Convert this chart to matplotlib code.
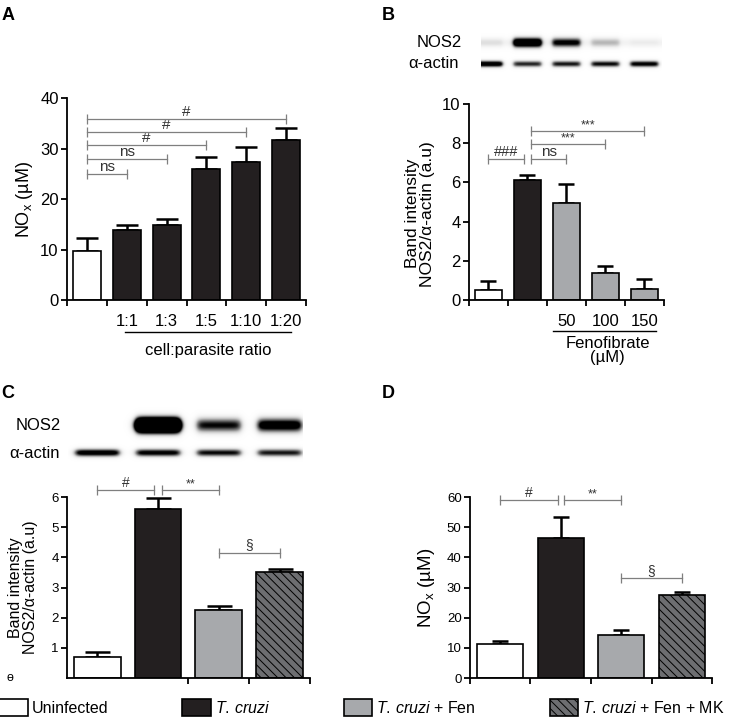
import numpy as np
import matplotlib.pyplot as plt
import matplotlib.transforms as mtransforms
from matplotlib.patches import Patch

plt.rcParams['font.family'] = ['Liberation Sans', 'DejaVu Sans']
plt.rcParams['mathtext.fontset'] = 'custom'
plt.rcParams['mathtext.rm'] = 'Liberation Sans'
plt.rcParams['mathtext.it'] = 'Liberation Sans:italic'
plt.rcParams['hatch.linewidth'] = 0.7

# ---- data ----
# panel A: NOx vs cell:parasite ratio
ratio_labels = ['', '1:1', '1:3', '1:5', '1:10', '1:20']
nox_A = [9.7, 13.8, 14.8, 26.0, 27.3, 31.8]
err_A = [2.5, 1.1, 1.2, 2.3, 3.0, 2.4]
sig_A = ['ns', 'ns', '#', '#', '#']
sig_A_y = [25.0, 28.0, 30.7, 33.4, 35.8]

# panel B: NOS2 band intensity vs fenofibrate dose
feno_labels = ['', '', '50', '100', '150']
band_B = [0.52, 6.1, 4.97, 1.37, 0.56]
err_B = [0.43, 0.26, 0.95, 0.39, 0.49]
nos2_B = [0.12, 1.6, 1.0, 0.3, 0.05]
actin_B = [1.3, 0.9, 0.95, 1.0, 1.1]

# panels C and D: four treatment groups
groups = ['Uninfected', 'T. cruzi', 'T. cruzi + Fen', 'T. cruzi + Fen + MK']
band_C = [0.71, 5.6, 2.25, 3.52]
err_C = [0.15, 0.37, 0.15, 0.09]
nos2_C = [0.0, 4.0, 1.0, 1.3]
actin_C = [1.2, 1.1, 1.0, 0.95]
nox_D = [11.2, 46.5, 14.1, 27.5]
err_D = [1.2, 6.9, 1.8, 1.1]

colors = ['white', '#231f20', '#a7a9ac', '#6d6e71']
hatches = ['', '', '', '\\\\\\\\']
gray = '#7f7f7f'


def setup(ax, n, ymax, yticks, fs, xticks):
    ax.set_xlim(-0.5, n - 0.5)
    ax.set_ylim(0, ymax)
    ax.set_yticks(yticks)
    ax.set_xticks(xticks)
    ax.set_xticklabels([])
    for s in ['top', 'right']:
        ax.spines[s].set_visible(False)
    for s in ['left', 'bottom']:
        ax.spines[s].set_linewidth(1.3)
    ax.tick_params(direction='out', length=4, width=1.3, labelsize=fs, pad=2)


def bars(ax, vals, errs, cols, hat, width, cap):
    x = np.arange(len(vals))
    ax.errorbar(x, vals, yerr=[np.zeros(len(vals)), errs], fmt='none', ecolor='black',
                elinewidth=1.8, capsize=cap, capthick=1.8, zorder=1)
    ax.bar(x, vals, width=width, color=cols, edgecolor='black', linewidth=1.2,
           hatch=hat, zorder=2)


def bracket(ax, x1, x2, y, label, fs):
    ax.plot([x1, x2], [y, y], color=gray, lw=0.9, marker='|', ms=7, mew=0.9,
            clip_on=False, zorder=3)
    ax.text((x1 + x2) / 2, y, label, ha='center', va='bottom', fontsize=fs,
            color='#333333', clip_on=False)


def blot(ax, n, x0, x1, rows):
    xs = np.linspace(x0, x1, 500)
    ys = np.linspace(0, 1, 150)
    X, Y = np.meshgrid(xs, ys)
    img = np.zeros_like(X)
    for amps, yc, th, bg in rows:
        img += bg * np.exp(-((Y - yc) / th) ** 2)
        for i, a in enumerate(amps):
            lane = 1 / (1 + np.exp((np.abs(X - i) - 0.36) / 0.03))
            img += a * lane * np.exp(-((Y - yc) / th) ** 2)
    ax.imshow(img, extent=(x0, x1, 0, 1), origin='lower', cmap='Greys', vmin=0,
              vmax=1.0, aspect='auto', interpolation='bilinear')
    ax.set_xlim(-0.5, n - 0.5)
    ax.set_ylim(0, 1)
    ax.axis('off')


fig = plt.figure(figsize=(7.29, 7.2), dpi=100)

# ---------------- A ----------------
axA = fig.add_axes([0.0919, 0.5833, 0.3279, 0.2802])
bars(axA, nox_A, err_A, [colors[0]] + [colors[1]] * 5, '', 0.7, 8)
setup(axA, 6, 40, [0, 10, 20, 30, 40], 12, np.arange(-0.5, 6))
axA.set_xticks(np.arange(6), minor=True)
axA.set_xticklabels(ratio_labels, minor=True)
axA.tick_params(axis='x', which='minor', length=0, labelsize=12, pad=10)
for i, (lab, yy) in enumerate(zip(sig_A, sig_A_y)):
    bracket(axA, 0, i + 1, yy, lab, 11)
axA.set_ylabel(r'NO$_\mathrm{x}$ (µM)', fontsize=13)
axA.yaxis.set_label_coords(-0.134, 0.5)
trA = mtransforms.blended_transform_factory(axA.transData, axA.transAxes)
axA.plot([0.95, 5.12], [-0.158, -0.158], color='black', lw=1.0, transform=trA, clip_on=False)
axA.text(3.04, -0.25, 'cell:parasite ratio', ha='center', va='center', fontsize=12,
         transform=trA)

# ---------------- B ----------------
axB = fig.add_axes([0.6433, 0.5833, 0.2675, 0.2722])
bars(axB, band_B, err_B, [colors[0], colors[1]] + [colors[2]] * 3, '', 0.7, 6)
setup(axB, 5, 10, [0, 2, 4, 6, 8, 10], 12, np.arange(-0.5, 5))
axB.set_xticks(np.arange(5), minor=True)
axB.set_xticklabels(feno_labels, minor=True)
axB.tick_params(axis='x', which='minor', length=0, labelsize=12, pad=10)
bracket(axB, 0, 0.91, 7.2, '###', 10.5)
bracket(axB, 1.09, 2, 7.2, 'ns', 11)
bracket(axB, 1.09, 3, 7.95, '***', 9)
bracket(axB, 1.09, 4, 8.6, '***', 9)
axB.set_ylabel('Band intensity\nNOS2/α-actin (a.u)', fontsize=12.5, linespacing=1.0)
axB.yaxis.set_label_coords(-0.172, 0.44)
trB = mtransforms.blended_transform_factory(axB.transData, axB.transAxes)
axB.plot([1.65, 4.3], [-0.158, -0.158], color='black', lw=1.0, transform=trB, clip_on=False)
axB.text(3.05, -0.22, 'Fenofibrate', ha='center', va='center', fontsize=12, transform=trB)
axB.text(3.05, -0.295, '(µM)', ha='center', va='center', fontsize=12, transform=trB)

blB = fig.add_axes([0.6433, 0.8917, 0.2675, 0.0694])
blot(blB, 5, -0.19, 4.45, [(nos2_B, 0.71, 0.09, 0.1), (actin_B, 0.28, 0.06, 0.0)])
blB.text(-0.036, 0.71, 'NOS2', transform=blB.transAxes, ha='right', va='center', fontsize=12)
blB.text(-0.05, 0.28, 'α-actin', transform=blB.transAxes, ha='right', va='center', fontsize=12)

# ---------------- C ----------------
axC = fig.add_axes([0.0919, 0.0583, 0.3333, 0.2514])
bars(axC, band_C, err_C, colors, hatches, 0.77, 9)
setup(axC, 4, 6, [1, 2, 3, 4, 5, 6], 9.5, [1.5, 2.5, 3.5])
bracket(axC, 0, 0.93, 6.22, '#', 10)
bracket(axC, 1.06, 2, 6.22, '**', 9)
bracket(axC, 2, 3, 4.16, '§', 10)
axC.set_ylabel('Band intensity\nNOS2/α-actin (a.u)', fontsize=11.5, linespacing=1.0)
axC.yaxis.set_label_coords(-0.12, 0.5)
fig.text(0.014, 0.058, 'ɵ', fontsize=9, ha='center', va='center')

blC = fig.add_axes([0.0919, 0.3472, 0.3333, 0.0903])
blot(blC, 4, -0.48, 3.38, [(nos2_C, 0.68, 0.1, 0.0), (actin_C, 0.26, 0.055, 0.0)])
blC.text(-0.025, 0.68, 'NOS2', transform=blC.transAxes, ha='right', va='center', fontsize=12)
blC.text(-0.03, 0.26, 'α-actin', transform=blC.transAxes, ha='right', va='center', fontsize=12)

# ---------------- D ----------------
axD = fig.add_axes([0.6447, 0.0583, 0.3320, 0.2514])
bars(axD, nox_D, err_D, colors, hatches, 0.76, 6)
setup(axD, 4, 60, [0, 10, 20, 30, 40, 50, 60], 9.5, np.arange(-0.5, 4))
bracket(axD, 0, 0.95, 58.9, '#', 10)
bracket(axD, 1.05, 2, 58.9, '**', 9)
bracket(axD, 2, 3, 33.1, '§', 10)
axD.set_ylabel(r'NO$_\mathrm{x}$ (µM)', fontsize=13.5)
axD.yaxis.set_label_coords(-0.136, 0.5)

# panel letters
for lab, x, y in [('A', 0.011, 0.979), ('B', 0.533, 0.979), ('C', 0.011, 0.454), ('D', 0.533, 0.454)]:
    fig.text(x, y, lab, fontsize=13, fontweight='bold', ha='center', va='center')

# legend
handles = [Patch(facecolor=c, edgecolor='black', hatch=h, linewidth=1.2)
           for c, h in zip(colors, hatches)]
labels = ['Uninfected', r'$\it{T.}\,\it{cruzi}$', r'$\it{T.}\,\it{cruzi}$ + Fen',
          r'$\it{T.}\,\it{cruzi}$ + Fen + MK']
fig.legend(handles, labels, loc='center left', bbox_to_anchor=(-0.003, 0.017), ncol=4,
           frameon=False, fontsize=11.5, handlelength=1.8, handleheight=1.3,
           handletextpad=0.25, columnspacing=4.6, borderpad=0.1, borderaxespad=0)

fig.savefig('out.png', dpi=100)
